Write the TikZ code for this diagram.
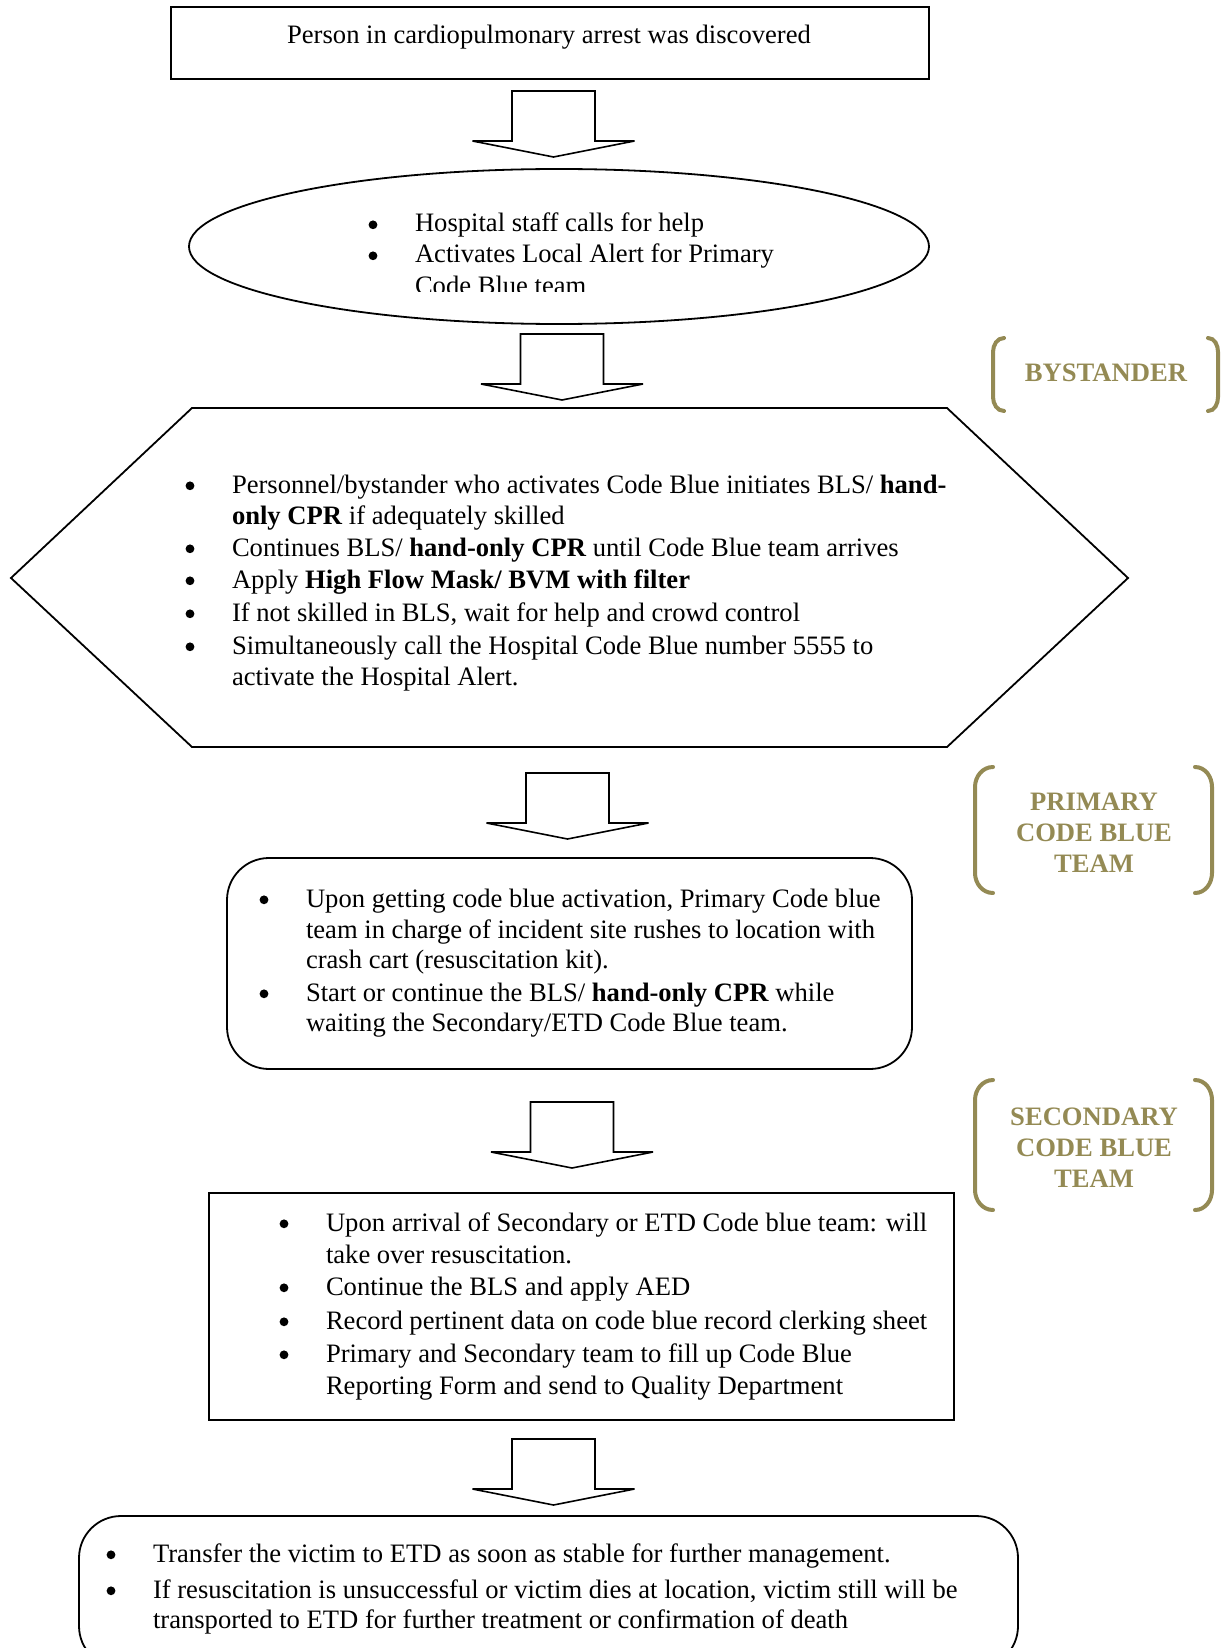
\documentclass[tikz,border=0pt]{standalone}
\usepackage{fontspec}
\setmainfont{Liberation Serif}
\usetikzlibrary{shapes.geometric}
\definecolor{olive}{RGB}{148,138,84}
\begin{document}
\begin{tikzpicture}[x=0.5pt,y=-0.5pt,
  every node/.style={font=\fontsize{13.3pt}{15.5pt}\selectfont, inner sep=0pt, outer sep=0pt},
  frame/.style={draw=black, line width=0.9pt},
  roundframe/.style={frame, rounded corners=21pt},
  ln/.style={anchor=base west},
  dot/.style={circle, fill=black, minimum size=4.4pt, yshift=3.6pt},
  tag/.style={font=\fontsize{13.3pt}{15.5pt}\selectfont\bfseries, text=olive, align=center},
  bracket/.style={draw=olive, line width=2pt, line cap=round},
  arrowline/.style={draw=black, line width=0.8pt, fill=white, line join=miter},
  blockarrow/.pic={
    \path[arrowline] (-41.5,0) -- (41.5,0) -- (41.5,50) -- (81,50) -- (0,66)
      -- (-81,50) -- (-41.5,50) -- cycle;
  }
]
\useasboundingbox (0,0) rectangle (1220,1648);
\clip (0,0) rectangle (1220,1648);

% ---------- step 1: discovery ----------
\node[frame, minimum width=379pt, minimum height=36pt] (discover) at (550,43) {};
\node[anchor=base] (discovertxt) at (549,44) {Person in cardiopulmonary arrest was discovered};

\pic at (553.5,91) {blockarrow};

% ---------- step 2: local alert ----------
\node[frame, ellipse, minimum width=370pt, minimum height=77.5pt] (alert) at (559,246.5) {};
\node[dot] (b1a) at (373,232) {};
\node[ln] (t1a) at (415,232) {Hospital staff calls for help};
\node[dot] (b1b) at (373,263) {};
\node[ln] (t1b) at (415,263) {Activates Local Alert for Primary};
\begin{scope}
  \clip (0,0) rectangle (1220,291);
  \node[ln] (t1c) at (415,294) {Code Blue team};
\end{scope}

\pic at (562,334) {blockarrow};

% ---------- step 3: bystander actions ----------
\coordinate (hxa) at (192,408);
\coordinate (hxb) at (947,408);
\coordinate (hxc) at (1128,578);
\coordinate (hxd) at (947,747);
\coordinate (hxe) at (192,747);
\coordinate (hxf) at (11,578);
\draw[frame, line join=miter] (hxa) -- (hxb) -- (hxc) -- (hxd) -- (hxe) -- (hxf) -- cycle;

\node[dot] (b2a) at (190,493) {};
\node[ln] (t2a) at (232,493) {Personnel/bystander who activates Code Blue initiates BLS/ \textbf{hand-}};
\node[ln] (t2a2) at (232,524) {\textbf{only CPR} if adequately skilled};
\node[dot] (b2b) at (190,556) {};
\node[ln] (t2b) at (232,556) {Continues BLS/ \textbf{hand-only CPR} until Code Blue team arrives};
\node[dot] (b2c) at (190,588) {};
\node[ln] (t2c) at (232,588) {Apply \textbf{High Flow Mask/ BVM with filter}};
\node[dot] (b2d) at (190,621) {};
\node[ln] (t2d) at (232,621) {If not skilled in BLS, wait for help and crowd control};
\node[dot] (b2e) at (190,654) {};
\node[ln] (t2e) at (232,654) {Simultaneously call the Hospital Code Blue number 5555 to};
\node[ln] (t2e2) at (232,685) {activate the Hospital Alert.};

\pic at (567.5,773) {blockarrow};

% ---------- step 4: primary team ----------
\node[roundframe, minimum width=342.5pt, minimum height=105.5pt] (primary) at (569.5,963.5) {};
\node[dot] (b3a) at (264,907) {};
\node[ln] (t3a) at (306,907) {Upon getting code blue activation, Primary Code blue};
\node[ln] (t3a2) at (306,938) {team in charge of incident site rushes to location with};
\node[ln] (t3a3) at (306,968) {crash cart (resuscitation kit).};
\node[dot] (b3b) at (264,1001) {};
\node[ln] (t3b) at (306,1001) {Start or continue the BLS/ \textbf{hand-only CPR} while};
\node[ln] (t3b2) at (306,1031) {waiting the Secondary/ETD Code Blue team.};

\pic at (572,1102) {blockarrow};

% ---------- step 5: secondary team ----------
\node[frame, minimum width=372.5pt, minimum height=113.5pt] (secondary) at (581.5,1306.5) {};
\node[dot] (b4a) at (284,1231) {};
\node[ln] (t4a) at (326,1231) {Upon arrival of Secondary or ETD Code blue team: will};
\node[ln] (t4a2) at (326,1263) {take over resuscitation.};
\node[dot] (b4b) at (284,1295) {};
\node[ln] (t4b) at (326,1295) {Continue the BLS and apply AED};
\node[dot] (b4c) at (284,1329) {};
\node[ln] (t4c) at (326,1329) {Record pertinent data on code blue record clerking sheet};
\node[dot] (b4d) at (284,1362) {};
\node[ln] (t4d) at (326,1362) {Primary and Secondary team to fill up Code Blue};
\node[ln] (t4d2) at (326,1394) {Reporting Form and send to Quality Department};

\pic at (553.5,1439) {blockarrow};

% ---------- step 6: transfer ----------
\node[roundframe, minimum width=469.5pt, minimum height=76pt] (transfer) at (548.5,1592) {};
\node[dot] (b5a) at (111,1562) {};
\node[ln] (t5a) at (153,1562) {Transfer the victim to ETD as soon as stable for further management.};
\node[dot] (b5b) at (111,1598) {};
\node[ln] (t5b) at (153,1598) {If resuscitation is unsuccessful or victim dies at location, victim still will be};
\node[ln] (t5b2) at (153,1628) {transported to ETD for further treatment or confirmation of death};

% ---------- role labels ----------
\node[tag] (bystander) at (1106,373) {BYSTANDER};
\draw[bracket] (1004,338) to[out=180,in=90] (993,352) -- (993,397) to[out=-90,in=180] (1004,411);
\draw[bracket] (1208,338) to[out=0,in=90] (1218,352) -- (1218,397) to[out=-90,in=0] (1208,411);

\node[tag] (primaryteam) at (1094,833) {PRIMARY\\CODE BLUE\\TEAM};
\draw[bracket] (993,767) to[out=180,in=90] (975,787) -- (975,873) to[out=-90,in=180] (993,893);
\draw[bracket] (1195,767) to[out=0,in=90] (1212,787) -- (1212,873) to[out=-90,in=0] (1195,893);

\node[tag] (secondaryteam) at (1094,1148) {SECONDARY\\CODE BLUE\\TEAM};
\draw[bracket] (993,1080) to[out=180,in=90] (975,1100) -- (975,1190) to[out=-90,in=180] (993,1210);
\draw[bracket] (1195,1080) to[out=0,in=90] (1212,1100) -- (1212,1190) to[out=-90,in=0] (1195,1210);
\end{tikzpicture}
\end{document}
